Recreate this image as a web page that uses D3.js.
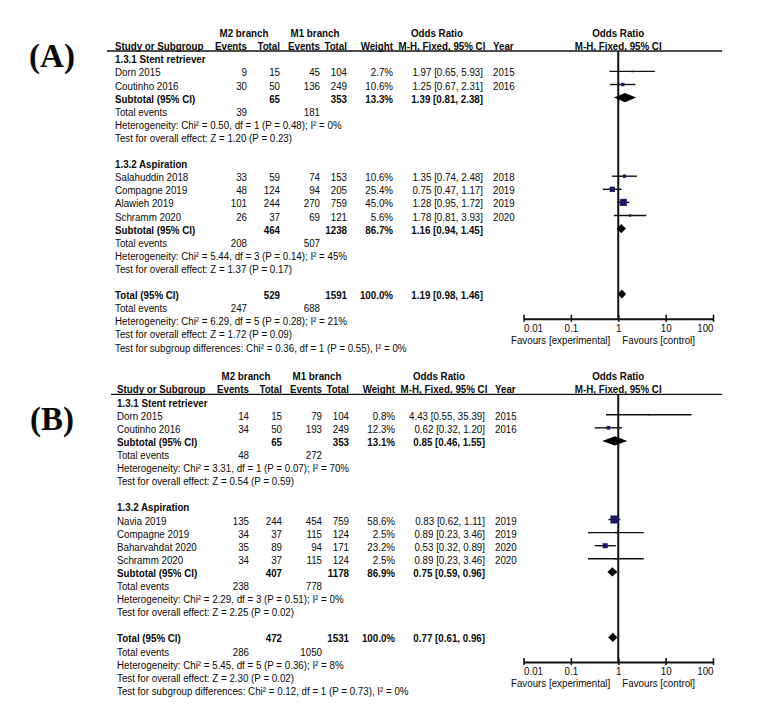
<!DOCTYPE html>
<meta charset="utf-8">
<style>
  body {
    margin: 0;
    background-color: #fff;
  }
  svg text {
    font-family: "Liberation Sans", Arial, sans-serif;
    font-size: 11.5px;
    fill: #0a0a0a;
  }
  svg text.bold {
    font-weight: bold;
  }
  svg text.panel-label {
    font-family: "Liberation Serif", "Times New Roman", serif;
    font-size: 33px;
    font-weight: bold;
  }
  .ci { stroke: #111; stroke-width: 1.4; }
  .nul { stroke: #111; stroke-width: 2; }
  .rule { stroke: #111; stroke-width: 1.3; }
</style>
<body>
<div id="chart"></div>
<script src="https://d3js.org/d3.v7.min.js"></script>
<script>
// ---- shared
const groupNames = ["1.3.1 Stent retriever", "1.3.2 Aspiration"];
const tickValues = [0.01, 0.1, 1, 10, 100];
const tickLabels = ["0.01", "0.1", "1", "10", "100"];

// ---- panel A
const studyA = ["Dorn 2015", "Coutinho 2016", "Salahuddin 2018", "Compagne 2019", "Alawieh 2019", "Schramm 2020"];
const groupA = [0, 0, 1, 1, 1, 1];
const m2EventsA = [9, 30, 33, 48, 101, 26];
const m2TotalA = [15, 50, 59, 124, 244, 37];
const m1EventsA = [45, 136, 74, 94, 270, 69];
const m1TotalA = [104, 249, 153, 205, 759, 121];
const weightA = [2.7, 10.6, 10.6, 25.4, 45.0, 5.6];
const orA = [1.97, 1.25, 1.35, 0.75, 1.28, 1.78];
const lowA = [0.65, 0.67, 0.74, 0.47, 0.95, 0.81];
const highA = [5.93, 2.31, 2.48, 1.17, 1.72, 3.93];
const yearA = [2015, 2016, 2018, 2019, 2019, 2020];
// subtotal 1.3.1, subtotal 1.3.2, overall total
const sumM2EventsA = [39, 208, 247];
const sumM2TotalA = [65, 464, 529];
const sumM1EventsA = [181, 507, 688];
const sumM1TotalA = [353, 1238, 1591];
const sumWeightA = [13.3, 86.7, 100.0];
const sumOrA = [1.39, 1.16, 1.19];
const sumLowA = [0.81, 0.94, 0.98];
const sumHighA = [2.38, 1.45, 1.46];
const hetA = ["Chi² = 0.50, df = 1 (P = 0.48); I² = 0%", "Chi² = 5.44, df = 3 (P = 0.14); I² = 45%", "Chi² = 6.29, df = 5 (P = 0.28); I² = 21%"];
const effectA = ["Z = 1.20 (P = 0.23)", "Z = 1.37 (P = 0.17)", "Z = 1.72 (P = 0.09)"];
const subgroupTestA = "Chi² = 0.36, df = 1 (P = 0.55), I² = 0%";

// ---- panel B
const studyB = ["Dorn 2015", "Coutinho 2016", "Navia 2019", "Compagne 2019", "Baharvahdat 2020", "Schramm 2020"];
const groupB = [0, 0, 1, 1, 1, 1];
const m2EventsB = [14, 34, 135, 34, 35, 34];
const m2TotalB = [15, 50, 244, 37, 89, 37];
const m1EventsB = [79, 193, 454, 115, 94, 115];
const m1TotalB = [104, 249, 759, 124, 171, 124];
const weightB = [0.8, 12.3, 58.6, 2.5, 23.2, 2.5];
const orB = [4.43, 0.62, 0.83, 0.89, 0.53, 0.89];
const lowB = [0.55, 0.32, 0.62, 0.23, 0.32, 0.23];
const highB = [35.39, 1.20, 1.11, 3.46, 0.89, 3.46];
const yearB = [2015, 2016, 2019, 2019, 2020, 2020];
const sumM2EventsB = [48, 238, 286];
const sumM2TotalB = [65, 407, 472];
const sumM1EventsB = [272, 778, 1050];
const sumM1TotalB = [353, 1178, 1531];
const sumWeightB = [13.1, 86.9, 100.0];
const sumOrB = [0.85, 0.75, 0.77];
const sumLowB = [0.46, 0.59, 0.61];
const sumHighB = [1.55, 0.96, 0.96];
const hetB = ["Chi² = 3.31, df = 1 (P = 0.07); I² = 70%", "Chi² = 2.29, df = 3 (P = 0.51); I² = 0%", "Chi² = 5.45, df = 5 (P = 0.36); I² = 8%"];
const effectB = ["Z = 0.54 (P = 0.59)", "Z = 2.25 (P = 0.02)", "Z = 2.30 (P = 0.02)"];
const subgroupTestB = "Chi² = 0.12, df = 1 (P = 0.73), I² = 0%";

const panels = [
  { label: "(A)", top: 59.3, labelY: 67, dx: 0,
    study: studyA, group: groupA, m2e: m2EventsA, m2t: m2TotalA, m1e: m1EventsA, m1t: m1TotalA,
    w: weightA, or: orA, lo: lowA, hi: highA, year: yearA,
    sm2e: sumM2EventsA, sm2t: sumM2TotalA, sm1e: sumM1EventsA, sm1t: sumM1TotalA,
    sw: sumWeightA, sor: sumOrA, slo: sumLowA, shi: sumHighA, het: hetA, eff: effectA, sub: subgroupTestA },
  { label: "(B)", top: 402.6, labelY: 430, dx: 2,
    study: studyB, group: groupB, m2e: m2EventsB, m2t: m2TotalB, m1e: m1EventsB, m1t: m1TotalB,
    w: weightB, or: orB, lo: lowB, hi: highB, year: yearB,
    sm2e: sumM2EventsB, sm2t: sumM2TotalB, sm1e: sumM1EventsB, sm1t: sumM1TotalB,
    sw: sumWeightB, sor: sumOrB, slo: sumLowB, shi: sumHighB, het: hetB, eff: effectB, sub: subgroupTestB }
];

const width = 760, height = 709;
const rowH = 13.1;
const squeeze = 0.85; // the source font is a narrow face

const svg = d3.select("#chart").append("svg")
  .attr("width", width)
  .attr("height", height);

const x = d3.scaleLog().domain([0.01, 100]).range([523.5, 713]);

// column positions (right edge unless noted)
const col = { study: 115, m2e: 247, m2t: 280, m1e: 320, m1t: 347, w: 393, or: 483, year: 493, orTitle: 437, orHead: 442 };

const f2 = v => v.toFixed(2);
const ciText = (o, l, h) => `${f2(o)} [${f2(l)}, ${f2(h)}]`;

function txt(g, xx, yy, s, anchor, bold) {
  g.append("text")
    .attr("transform", `translate(${xx},${yy}) scale(${squeeze},1)`)
    .attr("text-anchor", anchor || "start")
    .attr("class", bold ? "bold" : null)
    .text(s);
}

function drawPanel(p) {
  const g = svg.append("g");
  const dx = p.dx;
  const rowY = i => p.top + i * rowH;
  const base = i => rowY(i) + 4;

  g.append("text").attr("class", "panel-label")
    .attr("x", 52).attr("y", p.labelY).attr("text-anchor", "middle").text(p.label);

  // headers
  const h1 = p.top - 26.3 + 4, h2 = p.top - 13.3 + 4;
  txt(g, 244 + dx, h1, "M2 branch", "middle", true);
  txt(g, 315 + dx, h1, "M1 branch", "middle", true);
  txt(g, col.orTitle + dx, h1, "Odds Ratio", "middle", true);
  txt(g, x(1), h1, "Odds Ratio", "middle", true);
  txt(g, col.study + dx, h2, "Study or Subgroup", "start", true);
  txt(g, col.m2e + dx, h2, "Events", "end", true);
  txt(g, col.m2t + dx, h2, "Total", "end", true);
  txt(g, col.m1e + dx, h2, "Events", "end", true);
  txt(g, col.m1t + dx, h2, "Total", "end", true);
  txt(g, col.w + dx, h2, "Weight", "end", true);
  txt(g, col.orHead + dx, h2, "M-H, Fixed, 95% CI", "middle", true);
  txt(g, col.year + dx, h2, "Year", "start", true);
  txt(g, x(1), h2, "M-H, Fixed, 95% CI", "middle", true);

  const ruleY = p.top - 8.3;
  g.append("line").attr("class", "rule")
    .attr("x1", 107 + dx * 2).attr("x2", 722).attr("y1", ruleY).attr("y2", ruleY);

  const axisY = p.top + 259.5;
  g.append("line").attr("class", "nul")
    .attr("x1", x(1)).attr("x2", x(1)).attr("y1", ruleY).attr("y2", axisY);

  let r = 0;
  const summaryRow = (k, name) => {
    txt(g, col.study + dx, base(r), name, "start", true);
    txt(g, col.m2t + dx, base(r), p.sm2t[k], "end", true);
    txt(g, col.m1t + dx, base(r), p.sm1t[k], "end", true);
    txt(g, col.w + dx, base(r), p.sw[k].toFixed(1) + "%", "end", true);
    txt(g, col.or + dx, base(r), ciText(p.sor[k], p.slo[k], p.shi[k]), "end", true);
    const cy = rowY(r) - 1;
    g.append("path")
      .attr("d", `M${x(p.slo[k])},${cy}L${x(p.sor[k])},${cy - 4.6}L${x(p.shi[k])},${cy}L${x(p.sor[k])},${cy + 4.6}Z`)
      .attr("fill", "#000");
    r++;
    txt(g, col.study + dx, base(r), "Total events");
    txt(g, col.m2e + dx, base(r), p.sm2e[k], "end");
    txt(g, col.m1e + dx, base(r), p.sm1e[k], "end");
    r++;
    txt(g, col.study + dx, base(r), "Heterogeneity: " + p.het[k]);
    r++;
    txt(g, col.study + dx, base(r), "Test for overall effect: " + p.eff[k]);
    r++;
  };

  groupNames.forEach((gn, k) => {
    txt(g, col.study + dx, base(r), gn, "start", true);
    r++;
    p.study.forEach((s, i) => {
      if (p.group[i] !== k) return;
      txt(g, col.study + dx, base(r), s);
      txt(g, col.m2e + dx, base(r), p.m2e[i], "end");
      txt(g, col.m2t + dx, base(r), p.m2t[i], "end");
      txt(g, col.m1e + dx, base(r), p.m1e[i], "end");
      txt(g, col.m1t + dx, base(r), p.m1t[i], "end");
      txt(g, col.w + dx, base(r), p.w[i].toFixed(1) + "%", "end");
      txt(g, col.or + dx, base(r), ciText(p.or[i], p.lo[i], p.hi[i]), "end");
      txt(g, col.year + dx, base(r), p.year[i]);
      const cy = rowY(r) - 1;
      g.append("line").attr("class", "ci")
        .attr("x1", x(p.lo[i])).attr("x2", x(p.hi[i])).attr("y1", cy).attr("y2", cy);
      const sz = Math.max(1.6, Math.sqrt(p.w[i]) * 1.05);
      g.append("rect")
        .attr("x", x(p.or[i]) - sz / 2).attr("y", cy - sz / 2)
        .attr("width", sz).attr("height", sz)
        .attr("fill", "#1b1b62");
      r++;
    });
    summaryRow(k, "Subtotal (95% CI)");
    r++;
  });
  summaryRow(2, "Total (95% CI)");
  txt(g, col.study + dx, base(r), "Test for subgroup differences: " + p.sub);

  // axis
  const axis = d3.axisBottom(x)
    .tickValues(tickValues)
    .tickFormat((d, i) => tickLabels[i])
    .tickSizeOuter(0)
    .tickSizeInner(4)
    .tickPadding(1);
  const ag = g.append("g").attr("transform", `translate(0,${axisY})`).call(axis);
  ag.select(".domain").attr("stroke", "#111").attr("stroke-width", 2);
  ag.selectAll(".tick line").attr("y1", -4).attr("y2", 3).attr("stroke", "#111").attr("stroke-width", 1.6);
  const last = tickValues.length - 1;
  ag.selectAll(".tick text").attr("fill", "#0a0a0a")
    .attr("text-anchor", (d, i) => i === 0 ? "start" : i === last ? "end" : "middle")
    .attr("transform", `scale(${squeeze},1)`);

  txt(g, x(1) - 8, axisY + 25, "Favours [experimental]", "end");
  txt(g, x(1) + 4, axisY + 25, "Favours [control]", "start");
}

panels.forEach(drawPanel);
</script>
</body>
</html>
